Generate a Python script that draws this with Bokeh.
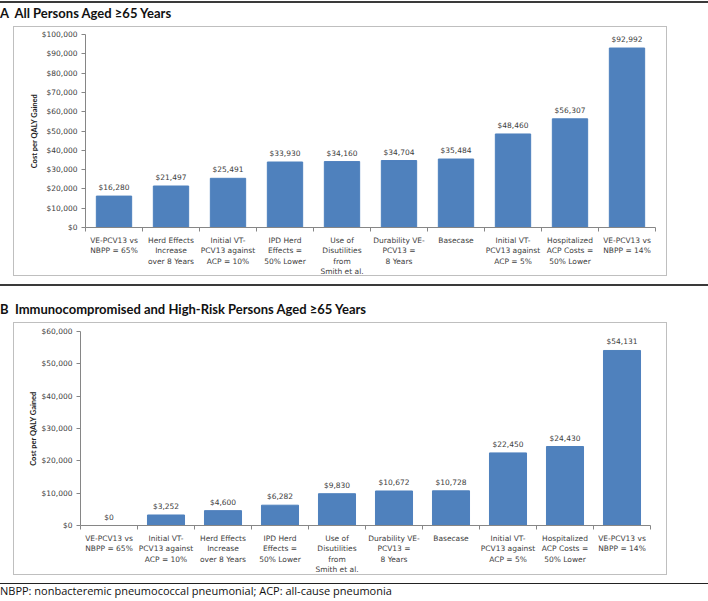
from bokeh.plotting import figure
from bokeh.models import (ColumnDataSource, FixedTicker, NumeralTickFormatter, Range1d,
                          Div, Spacer)
from bokeh.layouts import column, row
from bokeh.embed import file_html
from bokeh.resources import INLINE
from bokeh.core.properties import value

# ---------------- data ----------------
title_a = "A\u00a0\u00a0All Persons Aged \u226565 Years"
cats_a = [
    "VE-PCV13 vs\nNBPP = 65%",
    "Herd Effects\nIncrease\nover 8 Years",
    "Initial VT-\nPCV13 against\nACP = 10%",
    "IPD Herd\nEffects =\n50% Lower",
    "Use of\nDisutilities\nfrom\nSmith et al.",
    "Durability VE-\nPCV13 =\n8 Years",
    "Basecase",
    "Initial VT-\nPCV13 against\nACP = 5%",
    "Hospitalized\nACP Costs =\n50% Lower",
    "VE-PCV13 vs\nNBPP = 14%",
]
vals_a = [16280, 21497, 25491, 33930, 34160, 34704, 35484, 48460, 56307, 92992]
yticks_a = [0, 10000, 20000, 30000, 40000, 50000, 60000, 70000, 80000, 90000, 100000]

title_b = "B\u00a0\u00a0Immunocompromised and High-Risk Persons Aged \u226565 Years"
cats_b = [
    "VE-PCV13 vs\nNBPP = 65%",
    "Initial VT-\nPCV13 against\nACP = 10%",
    "Herd Effects\nIncrease\nover 8 Years",
    "IPD Herd\nEffects =\n50% Lower",
    "Use of\nDisutilities\nfrom\nSmith et al.",
    "Durability VE-\nPCV13 =\n8 Years",
    "Basecase",
    "Initial VT-\nPCV13 against\nACP = 5%",
    "Hospitalized\nACP Costs =\n50% Lower",
    "VE-PCV13 vs\nNBPP = 14%",
]
vals_b = [0, 3252, 4600, 6282, 9830, 10672, 10728, 22450, 24430, 54131]
yticks_b = [0, 10000, 20000, 30000, 40000, 50000, 60000]

y_label = "Cost per QALY Gained"
footnote = "NBPP: nonbacteremic pneumococcal pneumonial; ACP: all-cause pneumonia"

# ---------------- style ----------------
BAR = "#4F81BD"
TXT = "#404040"
AX = "#868686"
TICK_FONT = "DejaVu Sans"
BOLD_FONT = "Lato"
PAGE_W = 708


def make_chart(cats, vals, yticks, W, H, bl, br, bt, bb, bar_w):
    n = len(cats)
    xs = list(range(1, n + 1))
    src = ColumnDataSource(dict(x=xs, top=vals, lab=["${:,.0f}".format(v) for v in vals]))
    p = figure(width=W, height=H,
               x_range=Range1d(0.5, n + 0.5), y_range=Range1d(0, yticks[-1]),
               output_backend="svg", toolbar_location=None, margin=0,
               min_border_left=bl, min_border_right=br, min_border_top=bt, min_border_bottom=bb)
    p.vbar(x="x", top="top", width=bar_w, source=src, color=BAR)
    p.text(x="x", y="top", text="lab", source=src, text_align="center",
           text_baseline="bottom", y_offset=-4, text_font=value(TICK_FONT),
           text_font_size="7.5px", text_color=TXT)
    p.xgrid.visible = False
    p.ygrid.visible = False
    p.outline_line_color = None
    p.background_fill_alpha = 0
    p.border_fill_alpha = 0

    xa = p.xaxis[0]
    xa.ticker = FixedTicker(ticks=xs, minor_ticks=[i + 0.5 for i in range(n + 1)])
    xa.major_label_overrides = {x: c for x, c in zip(xs, cats)}
    xa.major_tick_out = 0
    xa.major_tick_in = 0
    xa.minor_tick_out = 4
    xa.minor_tick_in = 0
    xa.minor_tick_line_color = AX
    xa.axis_line_color = AX
    xa.major_label_standoff = 4
    xa.major_label_text_font = TICK_FONT
    xa.major_label_text_font_size = "7.5px"
    xa.major_label_text_color = TXT
    xa.major_label_text_line_height = 1.17

    ya = p.yaxis[0]
    ya.ticker = FixedTicker(ticks=yticks)
    ya.formatter = NumeralTickFormatter(format="$0,0")
    ya.major_tick_out = 4
    ya.major_tick_in = 0
    ya.minor_tick_line_color = None
    ya.axis_line_color = AX
    ya.major_tick_line_color = AX
    ya.major_label_text_font = TICK_FONT
    ya.major_label_text_font_size = "7.5px"
    ya.major_label_text_color = TXT
    ya.major_label_standoff = 4
    ya.axis_label = y_label
    ya.axis_label_text_font = BOLD_FONT
    ya.axis_label_text_font_style = "bold"
    ya.axis_label_text_font_size = "7.5px"
    ya.axis_label_text_color = "#222222"
    ya.axis_label_standoff = 0
    return p


# figure A: 26..280 (frame 34..227), figure B: 320..579 (frame 331..525)
pa = make_chart(cats_a, vals_a, yticks_a, 654, 254, 72, 12, 8, 53, 0.62)
pb = make_chart(cats_b, vals_b, yticks_b, 654, 259, 67, 17, 11, 54, 0.65)

HEAD_A_H, HEAD_B_H, FOOT_H = 26, 40, 21
BOX_A_TOP, BOX_A_H = 26, 250
BOX_B_TOP, BOX_B_H = 322, 253

TITLE_CSS = ("font-family:Lato,sans-serif;font-weight:bold;font-size:13px;"
             "color:#111;margin:0;white-space:nowrap;")
BOX_CSS = ("position:absolute;left:13px;width:654px;border:1px solid #BFBFBF;"
           "box-sizing:border-box;pointer-events:none;z-index:10;")

head_a = Div(width=PAGE_W, height=HEAD_A_H, margin=0, text=(
    '<div style="position:relative;width:%dpx;height:%dpx;margin:0;">'
    '<div style="height:1px;"></div>'
    '<div style="width:%dpx;border-top:2px solid #3a3a3a;padding-top:3px;line-height:14px;%s">%s</div>'
    '<div style="%stop:%dpx;height:%dpx;"></div>'
    '<div style="%stop:%dpx;height:%dpx;"></div>'
    '</div>') % (PAGE_W, HEAD_A_H, PAGE_W, TITLE_CSS, title_a,
                 BOX_CSS, BOX_A_TOP, BOX_A_H, BOX_CSS, BOX_B_TOP, BOX_B_H))

head_b = Div(width=PAGE_W, height=HEAD_B_H, margin=0, text=(
    '<div style="width:%dpx;height:%dpx;margin:0;">'
    '<div style="height:4px;margin:0;"></div>'
    '<div style="width:%dpx;border-top:2px solid #3a3a3a;padding-top:16px;line-height:14px;%s">%s</div>'
    '</div>') % (PAGE_W, HEAD_B_H, PAGE_W, TITLE_CSS, title_b))

foot = Div(width=PAGE_W, height=FOOT_H, margin=0, text=(
    '<div style="width:%dpx;height:%dpx;margin:0;">'
    '<div style="height:4px;margin:0;"></div>'
    '<div style="width:%dpx;border-top:1.5px solid #222;margin:0;white-space:nowrap;'
    'font-family:\'Open Sans\';font-size:11px;color:#111;line-height:14px;">%s</div>'
    '</div>') % (PAGE_W, FOOT_H, PAGE_W, footnote))

layout = column(head_a,
                row(Spacer(width=13, height=pa.height, margin=0), pa, margin=0),
                head_b,
                row(Spacer(width=13, height=pb.height, margin=0), pb, margin=0),
                foot, margin=0, spacing=0)

open("out.html", "w").write(file_html(layout, INLINE))
